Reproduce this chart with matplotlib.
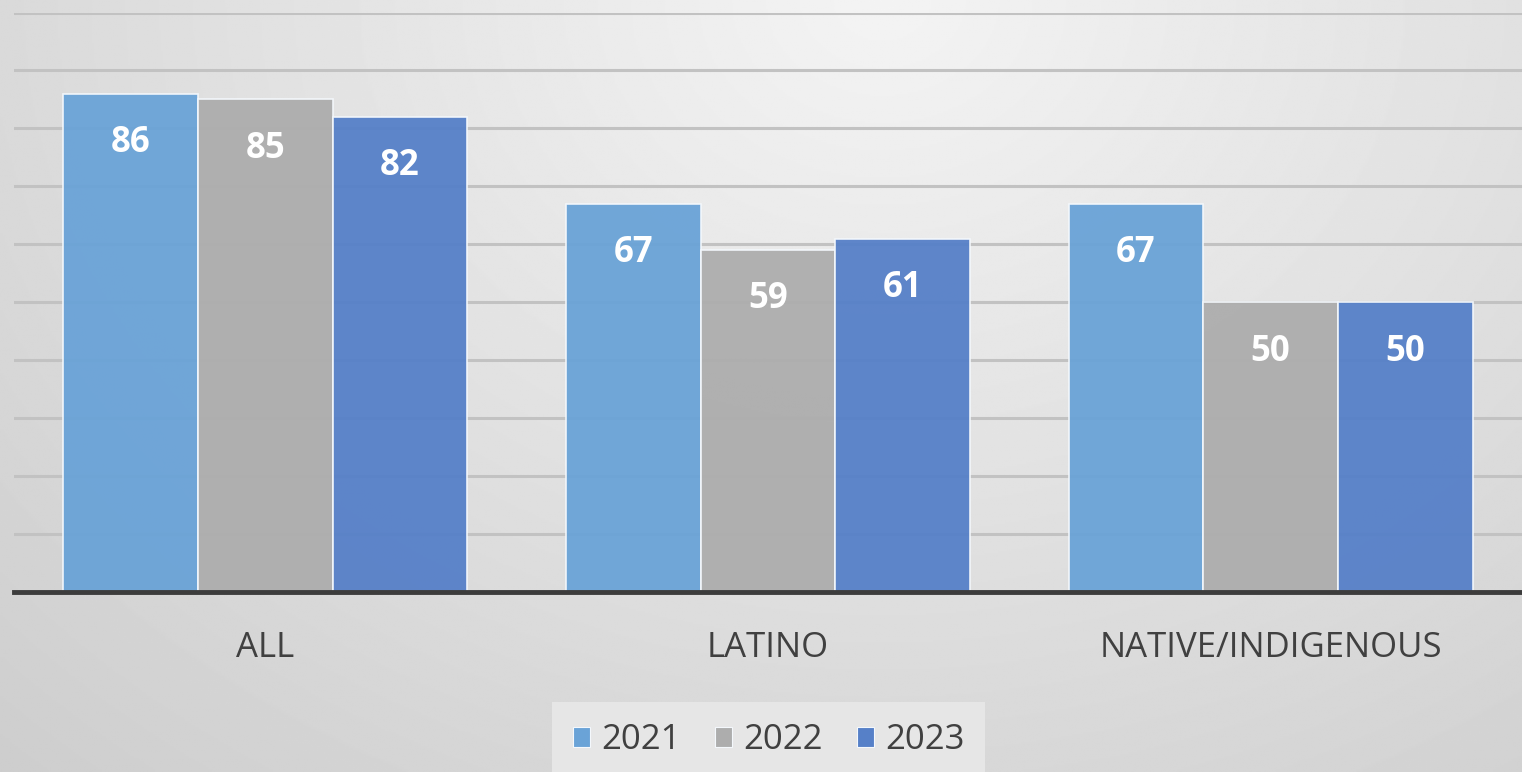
import numpy as np
import matplotlib
matplotlib.use('Agg')
import matplotlib.pyplot as plt
from matplotlib.patches import Patch

# chart data
categories = ['ALL', 'LATINO', 'NATIVE/INDIGENOUS']
years = ['2021', '2022', '2023']
vals_2021 = [86, 67, 67]
vals_2022 = [85, 59, 50]
vals_2023 = [82, 61, 50]

colors = ['#6aa3d7', '#adadad', '#5680c8']
series = [vals_2021, vals_2022, vals_2023]

plt.rcParams['font.family'] = ['Open Sans', 'DejaVu Sans']

fig = plt.figure(figsize=(15.22, 7.72), dpi=100)

# radial grey background
bg = fig.add_axes([0, 0, 1, 1], zorder=-10)
yy, xx = np.mgrid[0:1:400j, 0:1:800j]
r = np.sqrt(((xx - 0.58) * 1.6) ** 2 + (yy * 1.0) ** 2)
shade = np.clip(0.955 - 0.11 * r, 0.80, 0.96)
bg.imshow(shade, cmap='gray', vmin=0, vmax=1, aspect='auto',
          extent=[0, 1, 0, 1], origin='upper')
bg.axis('off')

ax = fig.add_axes([14 / 1522, 1 - 592 / 772, 1 - 14 / 1522, (592 - 12.5) / 772])
ax.set_facecolor('none')

x = np.arange(len(categories))
w = 0.268
for i, (vals, c) in enumerate(zip(series, colors)):
    bars = ax.bar(x + (i - 1) * w, vals, w, color=c, edgecolor='#f4f8fc',
                  linewidth=1.2, alpha=0.95, zorder=3, label=years[i])
    for b, v in zip(bars, vals):
        ax.annotate(str(v), (b.get_x() + b.get_width() / 2, v),
                    xytext=(0, -35.5), textcoords='offset points',
                    ha='center', va='center', color='white',
                    fontsize=25, fontweight='bold', zorder=5)

ax.set_xlim(-0.5, 2.5)
ax.set_ylim(0, 100)
ax.set_yticks(np.arange(10, 101, 10))
ax.yaxis.grid(True, color='#c2c2c2', linewidth=2.2, zorder=1)
ax.set_axisbelow(True)
ax.tick_params(axis='y', length=0, labelleft=False)
ax.set_xticks(x)
ax.set_xticklabels(categories, fontsize=25, color='#404040')
ax.tick_params(axis='x', length=0, pad=28)
for s in ['top', 'right', 'left']:
    ax.spines[s].set_visible(False)
ax.spines['bottom'].set_color('#3c3c3c')
ax.spines['bottom'].set_linewidth(3.5)
ax.spines['bottom'].set_zorder(6)

handles = [Patch(facecolor=c, edgecolor='#f4f8fc', linewidth=0.8) for c in colors]
leg = fig.legend(handles, years, loc='lower center', bbox_to_anchor=(0.505, -0.03),
                 ncol=3, fontsize=25, frameon=True, fancybox=False,
                 handlelength=0.5, handleheight=0.5, handletextpad=0.3,
                 columnspacing=1.0, borderpad=0.6, borderaxespad=0.5)
leg.get_frame().set_facecolor('#e6e6e6')
leg.get_frame().set_edgecolor('none')
leg.get_frame().set_alpha(1)
for t in leg.get_texts():
    t.set_color('#404040')

fig.savefig('out.png', dpi=100)
